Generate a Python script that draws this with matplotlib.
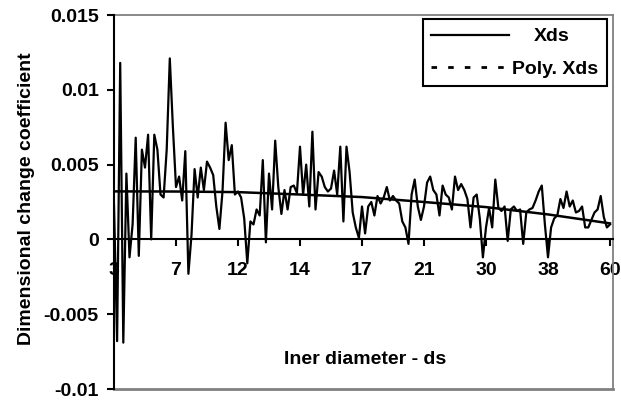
import numpy as np
import matplotlib.pyplot as plt
from matplotlib.lines import Line2D

plt.rcParams['font.family'] = ['Liberation Sans', 'DejaVu Sans']
plt.rcParams['font.weight'] = 'bold'
plt.rcParams['axes.labelweight'] = 'bold'

# dimensional change coefficient, 20 samples per labelled interval
xds = [
    0.0023, -0.0068, 0.0118, -0.0069, 0.0044, -0.0012, 0.0010, 0.0068, -0.0011, 0.0060,
    0.0048, 0.0070, 0.0000, 0.0070, 0.0060, 0.0030, 0.0028, 0.0060, 0.0121, 0.0075,
    0.0035, 0.0042, 0.0026, 0.0059, -0.0023, 0.0003, 0.0047, 0.0028, 0.0048, 0.0033,
    0.0052, 0.0048, 0.0043, 0.0022, 0.0007, 0.0032, 0.0078, 0.0053, 0.0063, 0.0030,
    0.0032, 0.0028, 0.0014, -0.0016, 0.0012, 0.0010, 0.0020, 0.0016, 0.0053, -0.0002,
    0.0044, 0.0020, 0.0066, 0.0035, 0.0017, 0.0033, 0.0020, 0.0035, 0.0036, 0.0031,
    0.0062, 0.0030, 0.0050, 0.0022, 0.0072, 0.0020, 0.0045, 0.0042, 0.0035, 0.0032,
    0.0034, 0.0046, 0.0030, 0.0062, 0.0012, 0.0062, 0.0045, 0.0018, 0.0008, 0.0001,
    0.0022, 0.0004, 0.0022, 0.0025, 0.0016, 0.0029, 0.0024, 0.0028, 0.0035, 0.0026,
    0.0029, 0.0026, 0.0024, 0.0012, 0.0008, -0.0003, 0.0030, 0.0040, 0.0022, 0.0013,
    0.0022, 0.0038, 0.0042, 0.0033, 0.0030, 0.0016, 0.0036, 0.0030, 0.0028, 0.0020,
    0.0042, 0.0033, 0.0037, 0.0033, 0.0027, 0.0008, 0.0028, 0.0030, 0.0014, -0.0012,
    0.0008, 0.0021, 0.0008, 0.0040, 0.0021, 0.0019, 0.0022, -0.0001, 0.0020, 0.0022,
    0.0019, 0.0020, -0.0003, 0.0018, 0.0020, 0.0021, 0.0026, 0.0032, 0.0036, 0.0010,
    -0.0012, 0.0008, 0.0014, 0.0016, 0.0027, 0.0021, 0.0032, 0.0022, 0.0026, 0.0018,
    0.0019, 0.0022, 0.0008, 0.0008, 0.0013, 0.0018, 0.0020, 0.0029, 0.0015, 0.0008,
    0.0010,
]

tick_labels = ['3', '7', '12', '14', '17', '21', '30', '38', '60']
tick_step = 20

# polynomial trend line as read at each labelled position
trend = [0.00321, 0.0032, 0.00316, 0.0030, 0.00283, 0.0025, 0.00216, 0.00167, 0.00107]

y_ticks = [-0.01, -0.005, 0, 0.005, 0.01, 0.015]
y_tick_labels = ['-0.01', '-0.005', '0', '0.005', '0.01', '0.015']

idx = np.arange(len(xds))
tick_pos = np.arange(len(tick_labels)) * tick_step

fig = plt.figure(figsize=(6.21, 4.0), dpi=100)
ax = fig.add_axes([114 / 621, 11 / 400, 499 / 621, 374 / 400])

data_line, = ax.plot(idx, xds, color='black', lw=1.6, zorder=3,
                     solid_joinstyle='round')
ax.plot(tick_pos, trend, color='black', lw=1.8, zorder=3)

ax.set_xlim(0, 160.97)
ax.set_ylim(-0.01, 0.015)

# grey plot-area border, black left axis, x axis through zero
for s in ['top', 'right']:
    ax.spines[s].set_color('#808080')
    ax.spines[s].set_linewidth(1.3)
ax.axhline(-0.01, color='#808080', lw=2.0, clip_on=False, zorder=1)
ax.spines['bottom'].set_position(('data', 0))
ax.spines['bottom'].set_linewidth(1.5)
ax.spines['left'].set_linewidth(1.5)
ax.spines['left'].set_zorder(4)

ax.set_xticks(tick_pos)
ax.set_xticklabels(tick_labels)
ax.set_yticks(y_ticks)
ax.set_yticklabels(y_tick_labels)
ax.tick_params(axis='y', direction='out', length=5, width=1.5, pad=6, labelsize=14)
ax.tick_params(axis='x', direction='out', length=5, width=1.5, pad=11, labelsize=14)

ax.set_ylabel('Dimensional change coefficient', fontsize=14)
ax.yaxis.set_label_coords(-0.158, 0.509)
ax.set_xlabel('Iner diameter - ds', fontsize=14)
ax.xaxis.set_label_coords(0.503, 0.102)

poly_handle = Line2D([], [], color='black', lw=2, linestyle=(0, (2, 4)))
leg = ax.legend([data_line, poly_handle], ['Xds', 'Poly. Xds'],
                loc='upper right', bbox_to_anchor=(0.988, 0.989),
                borderaxespad=0, fancybox=False, edgecolor='black',
                framealpha=1, fontsize=14, handlelength=4,
                handletextpad=0.15, borderpad=0.45, labelspacing=0.75)
leg.get_frame().set_linewidth(1.5)
leg.get_texts()[0].set_x(22)

fig.savefig('out.png', dpi=100)
